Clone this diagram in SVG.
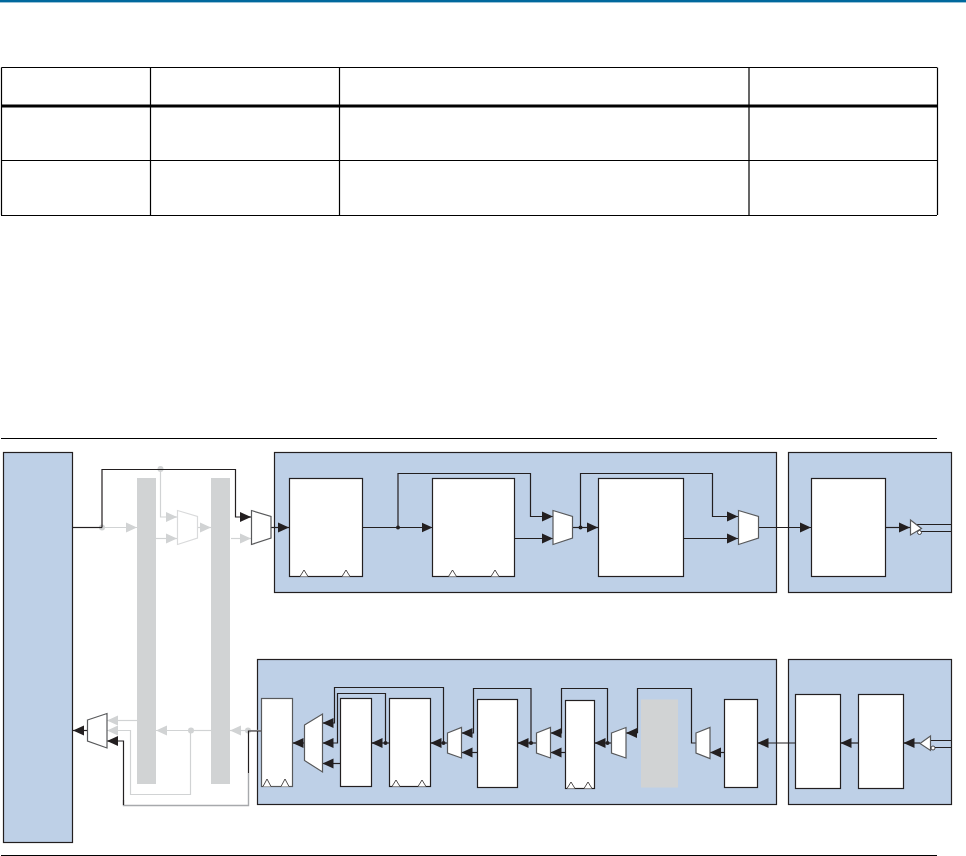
<svg xmlns="http://www.w3.org/2000/svg" width="966" height="856" viewBox="0 0 966 856">
<style>
.panel{fill:#bed0e7;stroke:#231f20;stroke-width:1.2}
.block{fill:#fff;stroke:#231f20;stroke-width:1.2}
.mux{fill:#fff;stroke:#58595b;stroke-width:1.2}
.gmux{fill:#fff;stroke:#d9dadb;stroke-width:1.2}
.bar{fill:#d1d3d4}
.clk{fill:#fff;stroke:#231f20;stroke-width:.8}
.w{fill:none;stroke:#231f20;stroke-width:1.2}
.a{fill:none;stroke:#231f20;stroke-width:1.2;marker-end:url(#ah)}
.g{fill:none;stroke:#d1d3d4;stroke-width:1.2}
.ga{fill:none;stroke:#d1d3d4;stroke-width:1.2;marker-end:url(#gh)}
.gt{fill:none;stroke:#a7a9ac;stroke-width:1.4}
.d{fill:#231f20}
.gd{fill:#d1d3d4}
.rule{stroke:#000;stroke-width:1.2;fill:none}
</style>
<defs>
<marker id="ah" markerUnits="userSpaceOnUse" markerWidth="12" markerHeight="12" refX="11" refY="6" orient="auto"><path d="M0,1 L11,6 L0,11z" fill="#231f20"/></marker>
<marker id="gh" markerUnits="userSpaceOnUse" markerWidth="12" markerHeight="12" refX="11" refY="6" orient="auto"><path d="M0,1 L11,6 L0,11z" fill="#d1d3d4"/></marker>
</defs>
<rect x="0" y="0" width="966" height="2.4" fill="#00689d"/>
<g id="table">
<path class="rule" d="M1.5 67.5H937M1 160.5H937M1 215.5H937M1.5 67.5V215M150.5 67.5V215M339.5 67.5V215M749 67.5V215M937.5 67.5V215"/>
<path d="M1 106H937" stroke="#000" stroke-width="3" fill="none"/>
</g>
<path class="rule" d="M1 438.5H937M1 855.5H937"/>

<g id="panels">
<rect id="left-block" class="panel" x="3.5" y="452.5" width="69" height="390"/>
<rect id="tx-pcs" class="panel" x="274.5" y="452.5" width="502" height="140"/>
<rect id="tx-pma" class="panel" x="788.5" y="452.5" width="163" height="140"/>
<rect id="rx-pcs" class="panel" x="257.5" y="659.5" width="519" height="145"/>
<rect id="rx-pma" class="panel" x="788.5" y="659.5" width="163" height="145"/>
</g>
<g id="gray-bars">
<rect id="bar-1" class="bar" x="137" y="478" width="19" height="306"/>
<rect id="bar-2" class="bar" x="211" y="478" width="19" height="306"/>
</g>

<g id="connectors">
<path class="ga" d="M102 527.500H137"/>
<path class="ga" d="M160.500 469V517H177"/>
<path class="ga" d="M156 538.500H177"/>
<path class="ga" d="M197 527.500H211"/>
<path class="ga" d="M231 538.500H251"/>
<path class="ga" d="M137 720.500H107"/>
<path class="ga" d="M190.500 730.500V794.500H130.500V730.500H107"/>
<path class="ga" d="M190.500 730.500H156"/>
<path class="ga" d="M261 730.500H230"/>
<path class="g" d="M211 730.500H190"/>
<circle class="gd" cx="102" cy="527.500" r="3"/>
<circle class="gd" cx="160.500" cy="469" r="3"/>
<circle class="gd" cx="191" cy="730.500" r="3"/>
<circle class="gd" cx="248" cy="730.500" r="3"/>

<path class="w" d="M73 527.500H102"/>
<path class="a" d="M102 527.500V469.500H235.500V517H251"/>
<path class="a" d="M271 527.500H289"/>
<path class="w" d="M362.500 527.500H398"/>
<path class="a" d="M398 527.500H432.500"/>
<path class="a" d="M398 527.500V473.500H530.500V516.500H553"/>
<path class="a" d="M514.500 538.500H553"/>
<path class="a" d="M572.500 527.500H598"/>
<path class="a" d="M580.500 527.500V473.500H712.500V516.500H738"/>
<path class="a" d="M683.500 538.500H738"/>
<path class="a" d="M758.500 527.500H811"/>
<path class="a" d="M885.500 527.500H910"/>
<path class="w" d="M916 524.500H951M921 531.500H951"/>
<circle class="d" cx="398" cy="527.500" r="2"/>
<circle class="d" cx="580.500" cy="527.500" r="2"/>

<path class="a" d="M920 743H903.500"/>
<path class="w" d="M930 740.500H951M935 747.500H951"/>
<path class="a" d="M858.500 743H840.500"/>
<path class="a" d="M795.500 743H757.500"/>
<path class="a" d="M724.500 752.500H710"/>
<path class="w" d="M696 743H691.500V688.500H637.500V733"/>
<path class="a" d="M637.500 733H626"/>
<path class="a" d="M611.500 743H594.500"/>
<path class="a" d="M607.500 743V688.500H561.500V733H550.500"/>
<path class="a" d="M565.500 752.500H550.500"/>
<path class="a" d="M536.500 743H517.500"/>
<path class="a" d="M531 743V688.500H473.500V733H461.500"/>
<path class="a" d="M477.500 752.500H461.500"/>
<path class="a" d="M447.500 743H430.500"/>
<path class="a" d="M443.500 743V687.500H334.500V723H322.500"/>
<path class="a" d="M389.500 743H371.500"/>
<path class="a" d="M385.500 743V693.500H337.500V743H322.500"/>
<path class="a" d="M340.500 763.500H322.500"/>
<path class="a" d="M304.500 743H292.500"/>
<circle class="d" cx="607.500" cy="743" r="2"/>
<circle class="d" cx="531" cy="743" r="2"/>
<circle class="d" cx="443.500" cy="743" r="2"/>
<circle class="d" cx="385.500" cy="743" r="2"/>

<path class="w" d="M261 731H248.500V773"/>
<path class="gt" d="M248.500 773V805.500H123.500V800"/>
<path class="a" d="M123.500 805V741H107"/>
<path class="a" d="M87.500 730.500H73"/>
</g>

<g id="gray-mux"><path class="gmux" d="M177.500 510.500L197.500 516.500V538L177.500 544.500Z"/></g>
<g id="mux-in"><path class="mux" d="M251.500 510.500L271 516.500V538L251.500 544.500Z"/></g>
<g id="block-1"><rect class="block" x="289.500" y="478.500" width="73" height="98"/><path class="clk" d="M300 576.500L304 570L308 576.500M342 576.500L346 570L350 576.500"/></g>
<g id="block-2"><rect class="block" x="432.500" y="478.500" width="82" height="98"/><path class="clk" d="M448.500 576.500L452.500 570L456.500 576.500M491 576.500L495 570L499 576.500"/></g>
<g id="mux-tx-1"><path class="mux" d="M553 510.500L572.500 516.500V538L553 544.500Z"/></g>
<g id="block-3"><rect class="block" x="598.500" y="478.500" width="85" height="98"/></g>
<g id="mux-tx-2"><path class="mux" d="M738.500 510.500L758.500 516.500V538L738.500 544.500Z"/></g>
<g id="block-4"><rect class="block" x="811.500" y="478.500" width="74" height="98"/></g>
<g id="tx-buffer"><path class="mux" d="M910.500 520L921.500 528.500L910.500 535Z"/><circle cx="919.500" cy="532.500" r="2" fill="#fff" stroke="#231f20" stroke-width=".8"/></g>

<g id="mux-out"><path class="mux" d="M87.500 720L107 713.500V748L87.500 741Z"/></g>
<g id="block-a"><rect class="block" x="261.500" y="698.500" width="31" height="88" style="stroke:#58595b"/><path class="clk" d="M263 786.500L267 779L271 786.500M281 786.500L285 779L289 786.500"/></g>
<g id="mux-big"><path class="mux" d="M304.500 725L322.500 714V772L304.500 760.500Z"/></g>
<g id="block-b"><rect class="block" x="340.500" y="698.500" width="31" height="88"/></g>
<g id="block-c"><rect class="block" x="389.500" y="698.500" width="41" height="88"/><path class="clk" d="M392 786.500L396 780L400 786.500M418 786.500L422 780L426 786.500"/></g>
<g id="mux-rx-1"><path class="mux" d="M447.500 733L461.500 727.500V758L447.500 753Z"/></g>
<g id="block-d"><rect class="block" x="477.500" y="699.500" width="40" height="88"/></g>
<g id="mux-rx-2"><path class="mux" d="M536.500 733L550.500 727.500V758L536.500 753Z"/></g>
<g id="block-e"><rect class="block" x="565.500" y="700.500" width="29" height="88"/><path class="clk" d="M567 788.500L571 782L575 788.500M584 788.500L588 782L592 788.500"/></g>
<g id="mux-rx-3"><path class="mux" d="M611.500 733L626 727.500V758L611.500 753Z"/></g>
<g id="gray-block"><rect class="bar" x="641" y="699.500" width="37" height="88"/></g>
<g id="mux-rx-4"><path class="mux" d="M696 733L710 727.500V758.500L696 753Z"/></g>
<g id="block-f"><rect class="block" x="724.500" y="699.500" width="33" height="88"/></g>
<g id="block-g"><rect class="block" x="795.500" y="694.500" width="45" height="94"/></g>
<g id="block-h"><rect class="block" x="858.500" y="694.500" width="45" height="94"/></g>
<g id="rx-buffer"><path class="mux" d="M930.500 736L920 743.500L930.500 750.500Z"/><circle cx="933" cy="748" r="2" fill="#fff" stroke="#231f20" stroke-width=".8"/></g>
</svg>
